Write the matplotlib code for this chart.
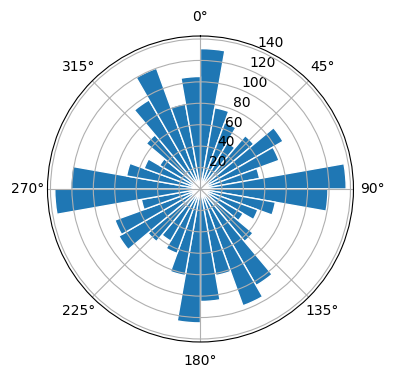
import numpy as np
import matplotlib
matplotlib.use("Agg")
import matplotlib.pyplot as plt

# direction bins (degrees, left edge) and counts
bin_edges_deg = list(range(0, 360, 10))
counts = [131, 77, 66, 50, 65, 89, 78, 56, 136,
          119, 71, 57, 46, 64, 104, 116, 82, 105,
          125, 82, 64, 56, 64, 88, 85, 56, 136,
          121, 70, 56, 44, 66, 96, 120, 81, 105]
bin_width_deg = 10

fig = plt.figure(figsize=(3.96, 3.8), dpi=100)
ax = fig.add_axes([0.1199, 0.1, 0.7727, 0.8053], projection='polar')
ax.set_theta_zero_location('N')
ax.set_theta_direction(-1)
ax.bar(np.deg2rad(bin_edges_deg), counts, width=np.deg2rad(bin_width_deg),
       align='edge', color='#1f77b4', edgecolor='white', linewidth=1)
ax.set_rticks([20, 40, 60, 80, 100, 120, 140])
fig.savefig('out.png', dpi=100)
